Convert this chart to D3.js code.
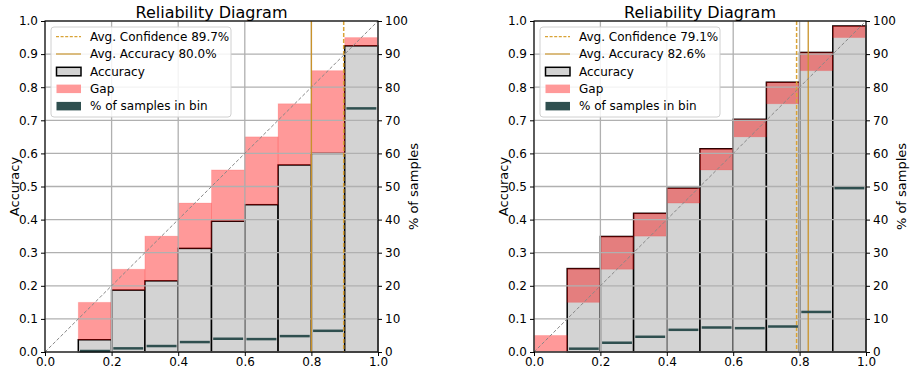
<!DOCTYPE html>
<html>
<head>
<meta charset="utf-8">
<script src="https://cdn.jsdelivr.net/npm/d3@7"></script>
<style>
  html, body { margin: 0; padding: 0; background: #fff; }
  svg { display: block; font-family: "DejaVu Sans", sans-serif; }
</style>
</head>
<body>
<svg id="chart" width="910" height="368"></svg>
<script>
// ---- data ----
const binStarts = [0.0, 0.1, 0.2, 0.3, 0.4, 0.5, 0.6, 0.7, 0.8, 0.9];
const binWidth = 0.1;
const xTicks = [0.0, 0.2, 0.4, 0.6, 0.8, 1.0];
const yTicks = [0.0, 0.1, 0.2, 0.3, 0.4, 0.5, 0.6, 0.7, 0.8, 0.9, 1.0];
const y2Ticks = [0, 10, 20, 30, 40, 50, 60, 70, 80, 90, 100];

const leftAccuracy   = [0, 0.037, 0.187, 0.215, 0.313, 0.395, 0.445, 0.565, 0.600, 0.925];
const leftConfidence = [0, 0.15, 0.25, 0.35, 0.45, 0.55, 0.65, 0.75, 0.85, 0.95];
const leftSamples    = [0, 0.3, 1.1, 1.8, 3.0, 4.0, 3.9, 4.8, 6.4, 73.6];
const leftAvgConf = 0.897, leftAvgAcc = 0.800;

const rightAccuracy   = [0, 0.252, 0.349, 0.419, 0.495, 0.614, 0.703, 0.815, 0.905, 0.985];
const rightConfidence = [0.05, 0.15, 0.25, 0.35, 0.45, 0.55, 0.65, 0.75, 0.85, 0.95];
const rightSamples    = [0, 1.0, 2.8, 4.6, 6.7, 7.4, 7.2, 7.7, 12.1, 49.5];
const rightAvgConf = 0.791, rightAvgAcc = 0.826;

const titleText = "Reliability Diagram";
const yLabel = "Accuracy";
const y2Label = "% of samples";

// ---- styles ----
const COL_ACC = "#d3d3d3";
const COL_GAP = "rgba(255,0,0,0.4)";
const COL_SAMP = "#2f4f4f";
const COL_CONF = "#d9a336";
const COL_AVGACC = "#c9922a";
const GRID = "#b0b0b0";

const svg = d3.select("#chart");

function drawPanel(left, right, acc, conf, samp, avgConf, avgAcc) {
  const top = 21, bottom = 352;
  const x = d3.scaleLinear().domain([0, 1]).range([left, right]);
  const y = d3.scaleLinear().domain([0, 1]).range([bottom, top]);
  const y2 = d3.scaleLinear().domain([0, 100]).range([bottom, top]);
  const g = svg.append("g");
  const data = binStarts.map((b, i) => ({b, acc: acc[i], conf: conf[i], samp: samp[i]}));

  // accuracy bars
  g.selectAll(".acc").data(data.filter(d => d.acc > 0)).enter().append("rect")
    .attr("x", d => x(d.b)).attr("width", d => x(d.b + binWidth) - x(d.b))
    .attr("y", d => y(d.acc)).attr("height", d => y(0) - y(d.acc))
    .attr("fill", COL_ACC).attr("stroke", "#000").attr("stroke-width", 1.5);

  // gap bars
  g.selectAll(".gap").data(data.filter(d => d.conf !== d.acc && d.conf > 0)).enter().append("rect")
    .attr("x", d => x(d.b)).attr("width", d => x(d.b + binWidth) - x(d.b))
    .attr("y", d => y(Math.max(d.acc, d.conf)))
    .attr("height", d => Math.abs(y(d.acc) - y(d.conf)))
    .attr("fill", COL_GAP).attr("stroke", "rgba(255,0,0,0.12)").attr("stroke-width", 1);

  // grid
  g.selectAll(".hg").data(yTicks).enter().append("line")
    .attr("x1", left).attr("x2", right).attr("y1", d => y(d)).attr("y2", d => y(d))
    .attr("stroke", GRID).attr("stroke-width", 1.3);
  g.selectAll(".vg").data(xTicks).enter().append("line")
    .attr("y1", top).attr("y2", bottom).attr("x1", d => x(d)).attr("x2", d => x(d))
    .attr("stroke", GRID).attr("stroke-width", 1.3);

  // avg lines
  g.append("line").attr("x1", x(avgAcc)).attr("x2", x(avgAcc)).attr("y1", top).attr("y2", bottom)
    .attr("stroke", COL_AVGACC).attr("stroke-width", 1.3);
  g.append("line").attr("x1", x(avgConf)).attr("x2", x(avgConf)).attr("y1", top).attr("y2", bottom)
    .attr("stroke", COL_CONF).attr("stroke-width", 1.5).attr("stroke-dasharray", "4,2");

  // diagonal
  g.append("line").attr("x1", x(0)).attr("y1", y(0)).attr("x2", x(1)).attr("y2", y(1))
    .attr("stroke", "#888").attr("stroke-width", 1).attr("stroke-dasharray", "3.5,2");

  // samples
  g.selectAll(".samp").data(data.filter(d => d.samp > 0)).enter().append("line")
    .attr("x1", d => x(d.b + 0.005)).attr("x2", d => x(d.b + binWidth - 0.005))
    .attr("y1", d => y2(d.samp)).attr("y2", d => y2(d.samp))
    .attr("stroke", COL_SAMP).attr("stroke-width", 2.5);

  // spines
  g.append("rect").attr("x", left).attr("y", top).attr("width", right - left).attr("height", bottom - top)
    .attr("fill", "none").attr("stroke", "#000").attr("stroke-width", 1.1);

  // axes
  const fmt1 = d3.format(".1f");
  const ax = g.append("g").attr("transform", `translate(0,${bottom})`)
    .call(d3.axisBottom(x).tickValues(xTicks).tickFormat(fmt1).tickSize(4).tickPadding(1.5));
  const ay = g.append("g").attr("transform", `translate(${left},0)`)
    .call(d3.axisLeft(y).tickValues(yTicks).tickFormat(fmt1).tickSize(4).tickPadding(3));
  const ay2 = g.append("g").attr("transform", `translate(${right},0)`)
    .call(d3.axisRight(y2).tickValues(y2Ticks).tickFormat(d3.format("d")).tickSize(4).tickPadding(3));
  [ax, ay, ay2].forEach(a => {
    a.select(".domain").remove();
    a.selectAll("text").attr("font-size", 12).attr("fill", "#000").attr("font-family", "DejaVu Sans");
    a.selectAll("line").attr("stroke", "#000");
  });

  // title & labels
  g.append("text").attr("x", (left + right) / 2).attr("y", 17.5).attr("text-anchor", "middle")
    .attr("font-size", 16).text(titleText);
  g.append("text").attr("transform", `translate(${left - 31},${(top + bottom) / 2}) rotate(-90)`)
    .attr("text-anchor", "middle").attr("dy", "0.35em").attr("font-size", 13).text(yLabel);
  g.append("text").attr("transform", `translate(${right + 35},${(top + bottom) / 2}) rotate(-90)`)
    .attr("text-anchor", "middle").attr("dy", "0.35em").attr("font-size", 13).text(y2Label);

  // legend
  const lg = g.append("g").attr("transform", `translate(${left + 6},27)`);
  lg.append("rect").attr("width", 180).attr("height", 90).attr("rx", 3)
    .attr("fill", "rgba(255,255,255,0.85)").attr("stroke", "#d0d0d0").attr("stroke-width", 1);
  const items = [
    {t: `Avg. Confidence ${(avgConf * 100).toFixed(1)}%`, k: "dash"},
    {t: `Avg. Accuracy ${(avgAcc * 100).toFixed(1)}%`, k: "line"},
    {t: "Accuracy", k: "acc"},
    {t: "Gap", k: "gap"},
    {t: "% of samples in bin", k: "samp"}
  ];
  items.forEach((it, i) => {
    const cy = 9.7 + i * 17.3;
    if (it.k === "dash") {
      lg.append("line").attr("x1", 5).attr("x2", 30).attr("y1", cy).attr("y2", cy)
        .attr("stroke", COL_CONF).attr("stroke-width", 1.3).attr("stroke-dasharray", "3,1.6");
    } else if (it.k === "line") {
      lg.append("line").attr("x1", 5).attr("x2", 30).attr("y1", cy).attr("y2", cy)
        .attr("stroke", "#d4ac60").attr("stroke-width", 1.6);
    } else {
      const fill = it.k === "acc" ? COL_ACC : it.k === "gap" ? "#ff9999" : COL_SAMP;
      lg.append("rect").attr("x", 5.5).attr("y", cy - 4).attr("width", 24.5).attr("height", 8.5)
        .attr("fill", fill).attr("stroke", it.k === "acc" ? "#000" : "none").attr("stroke-width", 1.5);
    }
    lg.append("text").attr("x", 39).attr("y", cy).attr("dy", "0.36em").attr("font-size", 12).text(it.t);
  });
}

drawPanel(45, 378, leftAccuracy, leftConfidence, leftSamples, leftAvgConf, leftAvgAcc);
drawPanel(534, 866, rightAccuracy, rightConfidence, rightSamples, rightAvgConf, rightAvgAcc);
</script>
</body>
</html>
